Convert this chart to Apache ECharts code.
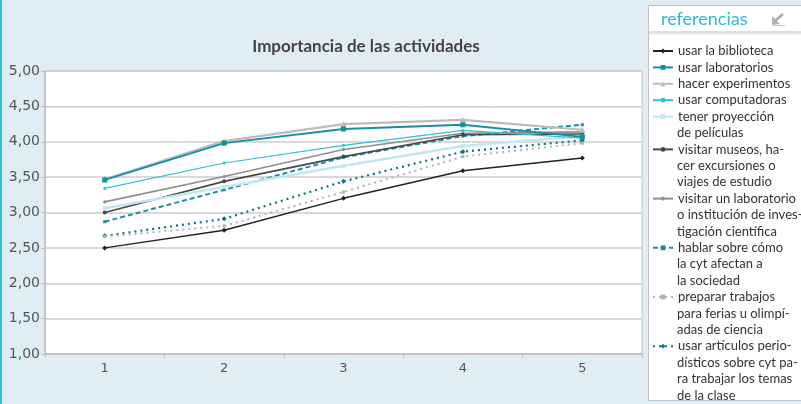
<!DOCTYPE html>
<html>
<head>
<meta charset="utf-8">
<script src="https://cdn.jsdelivr.net/npm/echarts@6/dist/echarts.min.js"></script>
<style>
  html, body { margin: 0; padding: 0; background: #e1edf5; }
  #chart { width: 801px; height: 404px; }
</style>
</head>
<body>
<div id="chart"></div>
<script>
// Categories along the x axis
const categories = ['1', '2', '3', '4', '5'];

// Legend labels, already broken into lines as printed in the panel
const seriesNames = [
  'usar la biblioteca',
  'usar laboratorios',
  'hacer experimentos',
  'usar computadoras',
  'tener proyección\nde películas',
  'visitar museos, ha-\ncer excursiones o\nviajes de estudio',
  'visitar un laboratorio\no institución de inves-\ntigación científica',
  'hablar sobre cómo\nla cyt afectan a\nla sociedad',
  'preparar trabajos\npara ferias u olimpí-\nadas de ciencia',
  'usar artículos perio-\ndísticos sobre cyt pa-\nra trabajar los temas\nde la clase'
];

// Average importance per activity
const biblioteca   = [2.50, 2.75, 3.20, 3.59, 3.77];
const laboratorios = [3.46, 3.98, 4.18, 4.24, 4.07];
const experimentos = [3.47, 4.01, 4.25, 4.31, 4.17];
const computadoras = [3.34, 3.70, 3.95, 4.16, 4.05];
const peliculas    = [3.06, 3.36, 3.66, 3.94, 4.08];
const museos       = [3.00, 3.44, 3.79, 4.10, 4.11];
const labInstituto = [3.15, 3.51, 3.89, 4.12, 4.14];
const sociedad     = [2.87, 3.32, 3.78, 4.08, 4.24];
const ferias       = [2.66, 2.81, 3.29, 3.79, 3.98];
const articulos    = [2.67, 2.91, 3.44, 3.86, 4.02];

const seriesValues = [biblioteca, laboratorios, experimentos, computadoras, peliculas,
                      museos, labInstituto, sociedad, ferias, articulos];

// Y axis range and step
const yMin = 1, yMax = 5, yStep = 0.5;

// Line look for each activity
const styles = [
  { color: '#222222', width: 1.5, type: 'solid',  symbol: 'diamond', size: 5 },
  { color: '#168ea5', width: 1.8, type: 'solid',  symbol: 'rect',    size: 5 },
  { color: '#bcbcbc', width: 2.2, type: 'solid',  symbol: 'triangle', size: 6 },
  { color: '#2fc1d5', width: 1.2, type: 'solid',  symbol: 'circle',  size: 3 },
  { color: '#c3e7f0', width: 2.5, type: 'solid',  symbol: 'rect',    size: 4 },
  { color: '#474747', width: 1.6, type: 'solid',  symbol: 'circle',  size: 4 },
  { color: '#8f8f8f', width: 1.6, type: 'solid',  symbol: 'diamond', size: 4 },
  { color: '#1790a6', width: 2,   type: [5, 3],   symbol: 'rect',    size: 3 },
  { color: '#b3b3b3', width: 2,   type: [2, 4],   symbol: 'rect',    size: 3 },
  { color: '#0c7285', width: 2.2, type: [2, 4],   symbol: 'diamond', size: 5 }
];

const legendFont = 'Lato, sans-serif';
const legendSize = 13;
const lineH = 16.4;
const firstLineY = 51;
const textX = 677;

// One legend block per activity (first text line), further lines set below it
const legends = [];
const extraLines = [];
let lineIndex = 0;
seriesNames.forEach((name, i) => {
  const lines = name.split('\n');
  const iconCenter = firstLineY + lineIndex * lineH;
  legends.push({
    data: [name],
    orient: 'vertical',
    left: 652,
    top: iconCenter - lineH / 2,
    padding: 0,
    itemWidth: 20,
    itemHeight: 6,
    itemGap: 0,
    selectedMode: false,
    formatter: n => n.split('\n')[0],
    textStyle: { fontFamily: legendFont, fontSize: legendSize, color: '#333333', lineHeight: lineH }
  });
  lines.slice(1).forEach((t, j) => {
    extraLines.push({
      type: 'text', x: textX, y: iconCenter + (j + 1) * lineH, silent: true,
      style: { text: t, fill: '#333333', font: legendSize + 'px ' + legendFont, verticalAlign: 'middle' }
    });
  });
  lineIndex += lines.length;
});

const series = seriesNames.map((name, i) => ({
  name: name,
  type: 'line',
  data: seriesValues[i],
  symbol: styles[i].symbol,
  symbolSize: styles[i].size,
  showSymbol: true,
  z: 10 - i,
  lineStyle: { color: styles[i].color, width: styles[i].width, type: styles[i].type },
  itemStyle: { color: styles[i].color },
  emphasis: { disabled: true },
  animation: false
}));

const chart = echarts.init(document.getElementById('chart'), null, { renderer: 'canvas' });

chart.setOption({
  backgroundColor: '#e1edf5',
  animation: false,
  title: {
    text: 'Importancia de las actividades',
    left: 361,
    top: 33,
    textAlign: 'center',
    textStyle: { fontFamily: 'Lato, sans-serif', fontWeight: 'bold', fontSize: 17, color: '#444444' }
  },
  grid: {
    left: 45, top: 71, right: 159, bottom: 50,
    show: true, backgroundColor: '#ffffff', borderColor: '#c4c4c4', borderWidth: 1
  },
  xAxis: {
    type: 'category',
    data: categories,
    boundaryGap: true,
    axisLine: { lineStyle: { color: '#bdbdbd', width: 1.5 } },
    axisTick: { show: true, length: 4, alignWithLabel: false, lineStyle: { color: '#bdbdbd' } },
    axisLabel: { fontFamily: '"DejaVu Sans", sans-serif', fontSize: 13, color: '#555555', margin: 8 }
  },
  yAxis: {
    type: 'value',
    min: yMin, max: yMax, interval: yStep,
    axisLine: { show: true, lineStyle: { color: '#bdbdbd', width: 1.5 } },
    axisTick: { show: true, length: 4, lineStyle: { color: '#bdbdbd' } },
    axisLabel: {
      fontFamily: '"DejaVu Sans", sans-serif', fontSize: 14, color: '#555555', margin: 5,
      formatter: v => v.toFixed(2).replace('.', ',')
    },
    splitLine: { lineStyle: { color: '#cdcdcd', width: 1.5 } }
  },
  legend: legends,
  series: series,
  graphic: [
    // cyan edge on the left
    { type: 'rect', shape: { x: 0, y: 0, width: 2, height: 404 }, style: { fill: '#35c4d7' }, silent: true },
    // references panel
    { type: 'rect', shape: { x: 648.5, y: 5.5, width: 160, height: 395 },
      style: { fill: '#ffffff', stroke: '#c3c3c3', lineWidth: 1 }, silent: true, z: -1 },
    { type: 'line', shape: { x1: 649, y1: 32, x2: 801, y2: 32 }, style: { stroke: '#bdbdbd', lineWidth: 1 }, silent: true },
    { type: 'line', shape: { x1: 649, y1: 34, x2: 801, y2: 34 }, style: { stroke: '#dedede', lineWidth: 1 }, silent: true },
    { type: 'text', x: 661, y: 19,
      style: { text: 'referencias', fill: '#2bbad0', font: '18px ' + legendFont, verticalAlign: 'middle' },
      silent: true },
    // arrow mark beside the header
    { type: 'polygon', shape: { points: [[772, 25], [772, 16], [775, 19], [782, 13], [784, 15], [777, 21], [780, 24]] },
      style: { fill: '#b0b0b0' }, silent: true },
    { type: 'line', shape: { x1: 773, y1: 25.5, x2: 785, y2: 25.5 }, style: { stroke: '#c8c8c8', lineWidth: 1 }, silent: true }
  ].concat(extraLines)
});
</script>
</body>
</html>
